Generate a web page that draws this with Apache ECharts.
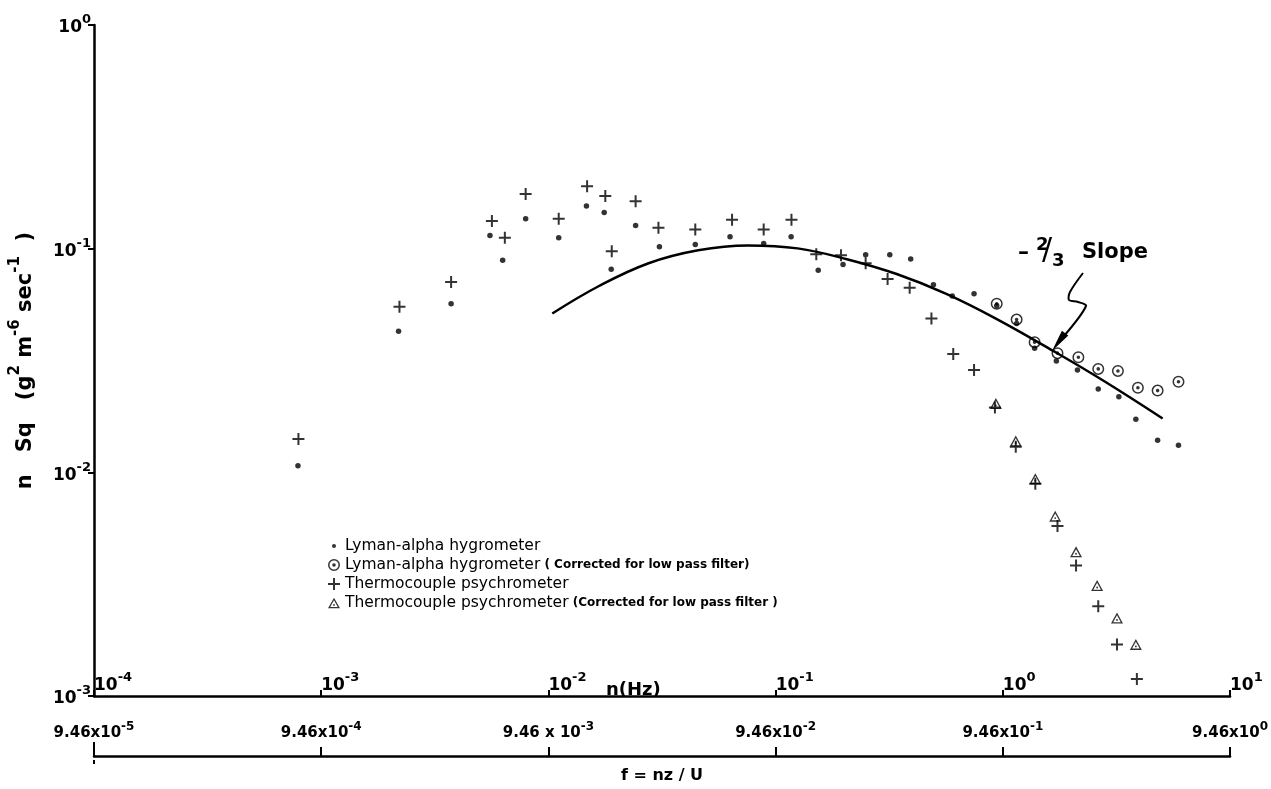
<!DOCTYPE html>
<html>
<head>
<meta charset="utf-8">
<title>n Sq spectrum</title>
<script src="https://cdn.jsdelivr.net/npm/echarts@6/dist/echarts.min.js"></script>
<style>
  html, body { margin: 0; padding: 0; background: #fff; }
  #chart { width: 1271px; height: 789px; }
</style>
</head>
<body>
<div id="chart"></div>
<script>
// values: [n (Hz), n Sq]
const lymanDots = [
  [7.9e-4, 0.0107], [2.19e-3, 0.0427], [3.73e-3, 0.0567], [5.53e-3, 0.1145],
  [6.29e-3, 0.0888], [7.94e-3, 0.136], [0.0111, 0.112], [0.0147, 0.155],
  [0.0176, 0.145], [0.0189, 0.081], [0.0242, 0.127], [0.0308, 0.102],
  [0.0443, 0.1045], [0.063, 0.113], [0.0886, 0.1055], [0.117, 0.113],
  [0.154, 0.080], [0.198, 0.085], [0.249, 0.094], [0.318, 0.094],
  [0.393, 0.090], [0.495, 0.069], [0.599, 0.0615], [0.747, 0.0628],
  [0.94, 0.0556], [1.15, 0.0463], [1.38, 0.0359], [1.72, 0.0315],
  [2.13, 0.0287], [2.63, 0.0236], [3.24, 0.0218], [3.85, 0.01725],
  [4.8, 0.0139], [5.93, 0.0132]
];
const lymanCorrected = [
  [0.94, 0.0567], [1.15, 0.0482], [1.38, 0.0382], [1.74, 0.0341], [2.15, 0.0327],
  [2.63, 0.029], [3.21, 0.0284], [3.93, 0.0239], [4.8, 0.0232], [5.93, 0.0254]
];
const thermo = [
  [7.94e-4, 0.0141], [2.21e-3, 0.055], [3.73e-3, 0.071], [5.64e-3, 0.133],
  [6.43e-3, 0.112], [7.94e-3, 0.1755], [0.0111, 0.136], [0.0148, 0.190],
  [0.0178, 0.172], [0.0190, 0.0973], [0.0242, 0.163], [0.0305, 0.124],
  [0.0443, 0.1217], [0.0643, 0.1347], [0.0886, 0.1217], [0.1174, 0.1347],
  [0.151, 0.0944], [0.194, 0.0934], [0.249, 0.0861], [0.311, 0.0732],
  [0.389, 0.0668], [0.485, 0.0487], [0.605, 0.0338], [0.747, 0.0287],
  [0.923, 0.0195], [1.14, 0.0130], [1.39, 0.0089], [1.74, 0.00575],
  [2.10, 0.00383], [2.63, 0.00252], [3.18, 0.0017], [3.89, 0.00119]
];
const thermoCorrected = [
  [0.932, 0.0203], [1.14, 0.0138], [1.39, 0.00937], [1.70, 0.00637],
  [2.10, 0.00441], [2.60, 0.00312], [3.18, 0.00223], [3.85, 0.0017]
];
// hand-drawn fit line through the points
const fitCurve = [
  [0.0104, 0.0513], [0.0167, 0.0681], [0.0276, 0.0861], [0.0456, 0.0984],
  [0.0755, 0.1034], [0.125, 0.1003], [0.206, 0.0897], [0.341, 0.077],
  [0.564, 0.0628], [0.932, 0.0487], [1.70, 0.0345], [2.82, 0.0254],
  [5.05, 0.0174]
];

const seriesNames = [
  'Lyman-alpha hygrometer',
  'Lyman-alpha hygrometer ( Corrected for low pass filter)',
  'Thermocouple psychrometer',
  'Thermocouple psychrometer (Corrected for low pass filter )'
];

const nTickLabels = ['10^-4', '10^-3', '10^-2', '10^-1', '10^0', '10^1'];
const fTickLabels = ['9.46x10^-5', '9.46x10^-4', '9.46 x 10^-3', '9.46x10^-2', '9.46x10^-1', '9.46x10^0'];
const yTickLabels = ['10^-3', '10^-2', '10^-1', '10^0'];

const FONT = 'DejaVu Sans';
const PLUS = 'path://M-1,-6 L1,-6 L1,-1 L6,-1 L6,1 L1,1 L1,6 L-1,6 L-1,1 L-6,1 L-6,-1 L-1,-1 Z';
const CIRCLED = 'path://M0,-6 A6,6 0 1,1 0,6 A6,6 0 1,1 0,-6 Z M0,-4.5 A4.5,4.5 0 1,0 0,4.5 A4.5,4.5 0 1,0 0,-4.5 Z M0,-1.8 A1.8,1.8 0 1,1 0,1.8 A1.8,1.8 0 1,1 0,-1.8 Z';
const TRIANGLE = 'path://M0,-6.5 L6.5,5 L-6.5,5 Z M0,-3.6 L-4.1,3.6 L4.1,3.6 Z M0,0.3 A1,1 0 1,1 0,2.3 A1,1 0 1,1 0,0.3 Z';
const DOT_ICON = 'path://M-6,-6 M6,6 M0,-2 A2,2 0 1,1 0,2 A2,2 0 1,1 0,-2 Z';

// base text sits at the bottom, exponent at the top of a taller line
function supRich(size) {
  return {
    b: { fontFamily: FONT, fontSize: size, fontWeight: 'bold', color: '#000',
         verticalAlign: 'bottom', padding: [Math.round(size * 0.35), 0, 0, 0] },
    s: { fontFamily: FONT, fontSize: Math.round(size * 0.78), fontWeight: 'bold', color: '#000',
         verticalAlign: 'top' }
  };
}
function toRich(label) {
  const parts = label.split('^');
  return parts.length < 2 ? '{b|' + label + '}' : '{b|' + parts[0] + '}{s|' + parts[1] + '}';
}
function labelFrom(list, minExp) {
  return v => {
    const t = list[Math.round(Math.log10(v)) - minExp];
    return t ? toRich(t) : '';
  };
}

const chart = echarts.init(document.getElementById('chart'));

chart.setOption({
  backgroundColor: '#fff',
  animation: false,
  textStyle: { fontFamily: FONT, color: '#000' },
  grid: { left: 91, right: 35, top: 25, bottom: 85 },
  legend: {
    orient: 'vertical',
    left: 323,
    top: 533,
    itemWidth: 12,
    itemHeight: 12,
    itemGap: 3,
    selectedMode: false,
    data: [
      { name: seriesNames[0], icon: DOT_ICON },
      { name: seriesNames[1], icon: CIRCLED },
      { name: seriesNames[2], icon: PLUS },
      { name: seriesNames[3], icon: TRIANGLE }
    ],
    formatter: name => {
      const i = name.indexOf(' (');
      if (i < 0) return '{a|' + name + '}';
      return '{a|' + name.slice(0, i) + '}{b| ' + name.slice(i + 1) + '}';
    },
    textStyle: {
      rich: {
        a: { fontFamily: FONT, fontSize: 15.5, color: '#000' },
        b: { fontFamily: FONT, fontSize: 12, fontWeight: 'bold', color: '#000' }
      }
    }
  },
  xAxis: [
    {
      type: 'log', logBase: 10, min: 1e-4, max: 10,
      axisLine: { lineStyle: { color: '#000', width: 2.5 } },
      axisTick: { inside: true, length: 6, lineStyle: { color: '#000', width: 2 } },
      axisLabel: {
        inside: true, margin: 2, align: 'left', showMinLabel: true, showMaxLabel: true,
        formatter: labelFrom(nTickLabels, -4), rich: supRich(17)
      },
      splitLine: { show: false }, minorTick: { show: false }
    },
    {
      type: 'log', logBase: 10, min: 1e-4, max: 10,
      position: 'bottom', offset: 60,
      name: 'f = nz / U', nameLocation: 'middle', nameGap: 12,
      nameTextStyle: { fontSize: 16, fontWeight: 'bold', color: '#000', fontFamily: FONT },
      axisLine: { lineStyle: { color: '#000', width: 2.5 } },
      axisTick: { inside: true, length: 9, lineStyle: { color: '#000', width: 2 } },
      axisLabel: {
        inside: true, margin: 15, showMinLabel: true, showMaxLabel: true,
        formatter: labelFrom(fTickLabels, -4), rich: supRich(15)
      },
      splitLine: { show: false }
    }
  ],
  yAxis: {
    type: 'log', logBase: 10, min: 1e-3, max: 1,
    name: '{t|n   Sq   (g}{s|2}{t| m}{s|-6}{t| sec}{s|-1}{t|  )}',
    nameLocation: 'middle', nameGap: 58,
    nameTextStyle: {
      rich: {
        t: { fontFamily: FONT, fontSize: 21, fontWeight: 'bold', color: '#000',
             verticalAlign: 'bottom', padding: [7, 0, 0, 0] },
        s: { fontFamily: FONT, fontSize: 15, fontWeight: 'bold', color: '#000', verticalAlign: 'top' }
      }
    },
    axisLine: { lineStyle: { color: '#000', width: 2.5 } },
    axisTick: { length: 6, lineStyle: { color: '#000', width: 2 } },
    axisLabel: {
      margin: 3, showMinLabel: true, showMaxLabel: true,
      formatter: labelFrom(yTickLabels, -3), rich: supRich(17)
    },
    splitLine: { show: false }
  },
  series: [
    {
      name: 'fit', type: 'line', data: fitCurve, smooth: 0.4,
      showSymbol: false, silent: true,
      lineStyle: { color: '#000', width: 2.5 }, z: 1
    },
    {
      name: seriesNames[0], type: 'scatter', data: lymanDots,
      symbol: 'circle', symbolSize: 5.5, itemStyle: { color: '#000' }, z: 3
    },
    {
      name: seriesNames[1], type: 'scatter', data: lymanCorrected,
      symbol: CIRCLED, symbolSize: 12, itemStyle: { color: '#000' }, z: 2
    },
    {
      name: seriesNames[2], type: 'scatter', data: thermo,
      symbol: PLUS, symbolSize: 12, itemStyle: { color: '#000' }, z: 3
    },
    {
      name: seriesNames[3], type: 'scatter', data: thermoCorrected,
      symbol: TRIANGLE, symbolSize: [12, 11], itemStyle: { color: '#000' }, z: 2
    }
  ]
});

// annotations; the dashed mark sits on the left end of the f axis
const x0 = chart.convertToPixel({ xAxisIndex: 0 }, 1e-4);
chart.setOption({
  graphic: [
    { type: 'text', left: 606, top: 681,
      style: { text: 'n(Hz)', fontSize: 18, fontWeight: 'bold', fontFamily: FONT, fill: '#000' } },
    { type: 'text', left: 1018, top: 242,
      style: { text: '–', fontSize: 22, fontWeight: 'bold', fontFamily: FONT, fill: '#000' } },
    { type: 'text', left: 1036, top: 236,
      style: { text: '2', fontSize: 18, fontWeight: 'bold', fontFamily: FONT, fill: '#000' } },
    { type: 'text', left: 1042, top: 236,
      style: { text: '/', fontSize: 30, fontFamily: FONT, fill: '#000' } },
    { type: 'text', left: 1052, top: 252,
      style: { text: '3', fontSize: 18, fontWeight: 'bold', fontFamily: FONT, fill: '#000' } },
    { type: 'text', left: 1082, top: 242,
      style: { text: 'Slope', fontSize: 21, fontWeight: 'bold', fontFamily: FONT, fill: '#000' } },
    { type: 'polyline',
      shape: { points: [[1083, 273], [1070, 292], [1069, 300], [1078, 302], [1086, 306], [1064, 336]], smooth: 0.3 },
      style: { stroke: '#000', lineWidth: 2, fill: null } },
    { type: 'polygon',
      shape: { points: [[1052, 351], [1068.3, 335.6], [1061.9, 330.8]] },
      style: { fill: '#000' } },
    { type: 'line', shape: { x1: x0, y1: 742, x2: x0, y2: 764 },
      style: { stroke: '#000', lineWidth: 2, lineDash: [5, 4] } }
  ]
});
</script>
</body>
</html>
